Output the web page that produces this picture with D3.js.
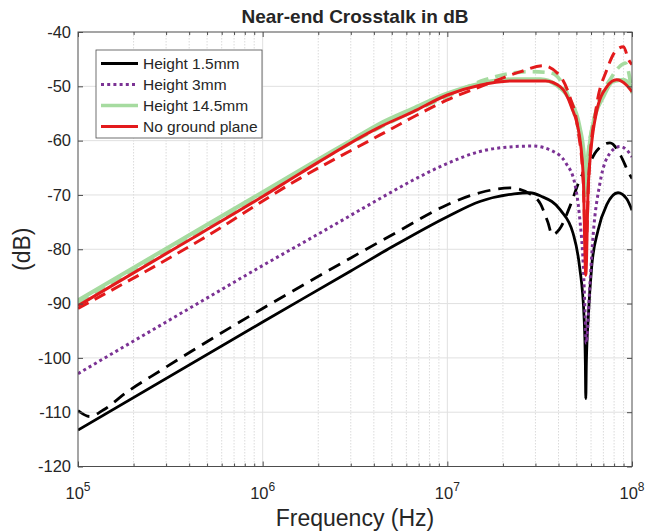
<!DOCTYPE html>
<html>
<head>
<meta charset="utf-8">
<script src="https://cdn.jsdelivr.net/npm/d3@7"></script>
<style>
  html, body { margin: 0; padding: 0; background: #fff; }
  svg { display: block; }
  text { font-family: "Liberation Sans", Arial, Helvetica, sans-serif; fill: #262626; }
</style>
</head>
<body>
<svg id="chart" width="646" height="531"></svg>
<script>
// ---------------- data ----------------
const chartTitle = "Near-end Crosstalk in dB";
const xLabel = "Frequency (Hz)";
const yLabel = "(dB)";
const legendLabels = ["Height 1.5mm", "Height 3mm", "Height 14.5mm", "No ground plane"];
const yTicks = [-120, -110, -100, -90, -80, -70, -60, -50, -40];
const xTickExponents = [5, 6, 7, 8];

// Height 1.5mm (solid)
const h15SolidF  = [1e5, 1e6, 3e6, 5e6, 1e7, 1.5e7, 2.3e7, 2.8e7, 3.2e7, 4.1e7, 4.8e7, 5.2e7, 5.5e7, 5.59e7, 5.62e7, 5.66e7, 5.8e7, 6.05e7, 6.55e7, 7.3e7, 8.4e7, 9.35e7, 1e8];
const h15SolidDb = [-113.3, -93.4, -84.0, -79.6, -74.0, -71.2, -69.8, -69.6, -70.2, -72.8, -77.1, -83.2, -92.4, -101.0, -107.5, -101.0, -92.4, -83.2, -76.5, -71.8, -69.6, -70.7, -72.8];
// Height 1.5mm (dashed)
const h15DashF  = [1e5, 1.16e5, 1.37e5, 1.84e5, 2.78e5, 4.2e5, 6.4e5, 1e6, 3e6, 5.3e6, 1e7, 1.5e7, 2.2e7, 2.8e7, 3.2e7, 3.5e7, 3.7e7, 4.05e7, 4.6e7, 5.2e7, 6e7, 6.4e7, 7.6e7, 8.7e7, 9.5e7, 1e8];
const h15DashDb = [-109.7, -110.8, -109.6, -106.3, -102.4, -98.6, -94.8, -90.9, -81.6, -76.9, -71.8, -69.6, -68.7, -69.8, -71.7, -75.0, -77.3, -76.3, -72.2, -67.3, -63.6, -62.0, -60.4, -62.8, -65.6, -67.0];
// Height 3mm (dotted)
const h3F  = [1e5, 4.6e5, 1e6, 2e6, 4.2e6, 6.5e6, 1e7, 1.5e7, 2.3e7, 2.9e7, 3.75e7, 4.4e7, 4.9e7, 5.2e7, 5.45e7, 5.58e7, 5.65e7, 5.92e7, 6.17e7, 6.7e7, 7.6e7, 8.6e7, 9.35e7, 1e8];
const h3Db = [-102.9, -89.7, -83.0, -77.2, -70.9, -67.3, -64.2, -62.0, -61.1, -61.0, -62.0, -64.2, -67.9, -74.0, -83.2, -92.4, -97.3, -86.3, -77.1, -67.9, -62.3, -61.1, -61.7, -63.0];
// Height 14.5mm (solid)
const h145F  = [1e5, 3e5, 1e6, 1.6e6, 3e6, 4.3e6, 6.5e6, 1e7, 1.5e7, 2.3e7, 3.2e7, 3.9e7, 4.6e7, 5.2e7, 5.5e7, 5.62e7, 5.8e7, 6.17e7, 7e7, 7.9e7, 9e7, 9.75e7, 1e8];
const h145Db = [-89.4, -79.9, -69.5, -65.4, -60.0, -56.9, -54.1, -51.3, -49.5, -48.7, -48.7, -49.8, -52.5, -57.4, -63.0, -70.0, -63.0, -56.8, -51.9, -49.1, -48.8, -49.8, -50.4];
// Height 14.5mm (dashed)
const h145DashF  = [1e5, 1e6, 4.3e6, 1e7, 1.6e7, 2.8e7, 3.6e7, 4.3e7, 4.8e7, 5.3e7, 5.62e7, 5.9e7, 6.4e7, 7.8e7, 8.6e7, 9.2e7, 9.6e7, 1e8];
const h145DashDb = [-89.8, -69.9, -57.6, -51.8, -48.8, -47.3, -47.5, -50.1, -54.4, -60.0, -65.0, -60.0, -54.4, -48.2, -46.3, -45.7, -47.5, -51.3];
// No ground plane (solid)
const nogpF  = [1e5, 3e5, 1e6, 1.6e6, 4.3e6, 6.5e6, 1e7, 1.5e7, 2.3e7, 3.4e7, 4.1e7, 4.7e7, 5.2e7, 5.45e7, 5.62e7, 5.8e7, 6.4e7, 7.3e7, 8.25e7, 9.35e7, 1e8];
const nogpDb = [-90.4, -80.8, -70.3, -66.0, -57.5, -54.7, -51.6, -49.8, -49.0, -49.0, -50.1, -53.8, -59.3, -67.0, -84.8, -68.0, -55.0, -50.1, -48.8, -49.8, -51.0];
// No ground plane (dashed)
const nogpDashF  = [1e5, 4.6e5, 1.6e6, 4.3e6, 6.5e6, 1e7, 1.5e7, 2.5e7, 3.3e7, 4.1e7, 4.6e7, 5.1e7, 5.45e7, 5.62e7, 5.85e7, 6.4e7, 7.3e7, 8.25e7, 9e7, 9.55e7, 1e8];
const nogpDashDb = [-90.9, -78.3, -66.9, -59.0, -55.7, -52.5, -50.1, -47.3, -46.2, -48.2, -51.9, -58.0, -68.0, -80.0, -66.0, -54.0, -47.0, -43.3, -42.7, -45.0, -46.0];

// ---------------- styles ----------------
const cBlack = "#000000", cPurple = "#7b3294", cGreen = "#a6dba0", cRed = "#e31a1c";
const series = [
  { f: h15SolidF, v: h15SolidDb, color: cBlack, w: 2.8, dash: null },
  { f: h15DashF, v: h15DashDb, color: cBlack, w: 2.8, dash: "13,8" },
  { f: h3F, v: h3Db, color: cPurple, w: 3, dash: "3,3.2" },
  { f: h145F, v: h145Db, color: cGreen, w: 4, dash: null },
  { f: h145DashF, v: h145DashDb, color: cGreen, w: 3.6, dash: "12,7" },
  { f: nogpF, v: nogpDb, color: cRed, w: 3, dash: null },
  { f: nogpDashF, v: nogpDashDb, color: cRed, w: 3, dash: "12,7" }
];
const legendStyles = [
  { color: cBlack, w: 2.8, dash: null },
  { color: cPurple, w: 3, dash: "3,3.2" },
  { color: cGreen, w: 3.6, dash: null },
  { color: cRed, w: 3, dash: null }
];

// ---------------- layout ----------------
const L = 78, R = 632, T = 32, B = 466.5;
const svg = d3.select("#chart");
const x = d3.scaleLog().domain([1e5, 1e8]).range([L, R]);
const y = d3.scaleLinear().domain([-120, -40]).range([B, T]);

// grid
const grid = svg.append("g");
const minorF = [];
for (let e = 5; e < 8; e++) for (let m = 2; m <= 9; m++) minorF.push(m * Math.pow(10, e));
grid.selectAll("line.minor").data(minorF).enter().append("line")
  .attr("x1", d => x(d)).attr("x2", d => x(d)).attr("y1", T).attr("y2", B)
  .attr("stroke", "#d2d2d2").attr("stroke-width", 0.8).attr("stroke-dasharray", "1.5,1.5");
grid.selectAll("line.majx").data([1e6, 1e7]).enter().append("line")
  .attr("x1", d => x(d)).attr("x2", d => x(d)).attr("y1", T).attr("y2", B)
  .attr("stroke", "#e0e0e0").attr("stroke-width", 1);
grid.selectAll("line.majy").data(yTicks.slice(1, -1)).enter().append("line")
  .attr("x1", L).attr("x2", R).attr("y1", d => y(d)).attr("y2", d => y(d))
  .attr("stroke", "#e0e0e0").attr("stroke-width", 1);

// clip
svg.append("clipPath").attr("id", "clip").append("rect")
  .attr("x", L).attr("y", T).attr("width", R - L).attr("height", B - T);

const line = d3.line().x(d => x(d[0])).y(d => y(d[1])).curve(d3.curveMonotoneX);
const lines = svg.append("g").attr("clip-path", "url(#clip)");
series.forEach(s => {
  const pts = s.f.map((f, i) => [f, s.v[i]]);
  lines.append("path").datum(pts).attr("d", line)
    .attr("fill", "none").attr("stroke", s.color).attr("stroke-width", s.w)
    .attr("stroke-dasharray", s.dash).attr("stroke-linejoin", "round");
});

// axes box + ticks (inward)
const ax = svg.append("g");
const axisColor = "#4d4d4d";
ax.append("rect").attr("x", L).attr("y", T).attr("width", R - L).attr("height", B - T)
  .attr("fill", "none").attr("stroke", axisColor).attr("stroke-width", 1);
const bottomAxis = d3.axisBottom(x).tickValues(xTickExponents.map(e => Math.pow(10, e))).tickSize(-5).tickFormat("");
const topAxis = d3.axisTop(x).tickValues(xTickExponents.map(e => Math.pow(10, e))).tickSize(-5).tickFormat("");
const bottomMinor = d3.axisBottom(x).tickValues(minorF).tickSize(-3).tickFormat("");
const topMinor = d3.axisTop(x).tickValues(minorF).tickSize(-3).tickFormat("");
const leftAxis = d3.axisLeft(y).tickValues(yTicks).tickSize(-5).tickFormat("");
const rightAxis = d3.axisRight(y).tickValues(yTicks).tickSize(-5).tickFormat("");
[[bottomAxis, `translate(0,${B})`], [topAxis, `translate(0,${T})`], [bottomMinor, `translate(0,${B})`], [topMinor, `translate(0,${T})`],
 [leftAxis, `translate(${L},0)`], [rightAxis, `translate(${R},0)`]].forEach(([a, tr]) => {
  const g = ax.append("g").attr("transform", tr).call(a);
  g.select(".domain").remove();
  g.selectAll("line").attr("stroke", axisColor);
});

// tick labels
svg.append("g").selectAll("text").data(yTicks).enter().append("text")
  .attr("x", L - 7).attr("y", d => y(d)).attr("dy", "0.35em")
  .attr("text-anchor", "end").attr("font-size", 16.5).text(d => d);
const xl = svg.append("g").selectAll("text").data(xTickExponents).enter().append("text")
  .attr("x", d => x(Math.pow(10, d))).attr("y", 499).attr("text-anchor", "middle").attr("font-size", 16.5);
xl.append("tspan").text("10");
xl.append("tspan").attr("dy", -8).attr("font-size", 12).text(d => d);

// titles
svg.append("text").attr("x", (L + R) / 2).attr("y", 23).attr("text-anchor", "middle")
  .attr("font-size", 19).attr("font-weight", "bold").attr("fill", "#000").text(chartTitle);
svg.append("text").attr("x", (L + R) / 2).attr("y", 526).attr("text-anchor", "middle")
  .attr("font-size", 23).text(xLabel);
svg.append("text").attr("transform", `translate(30,${(T + B) / 2}) rotate(-90)`).attr("text-anchor", "middle")
  .attr("font-size", 23).text(yLabel);

// legend
const lg = svg.append("g");
lg.append("rect").attr("x", 96).attr("y", 50).attr("width", 166).attr("height", 88)
  .attr("fill", "#fff").attr("stroke", axisColor).attr("stroke-width", 0.8);
const rowY = i => 63.5 + i * 21;
legendLabels.forEach((lab, i) => {
  const st = legendStyles[i];
  lg.append("line").attr("x1", 101).attr("x2", 138).attr("y1", rowY(i)).attr("y2", rowY(i))
    .attr("stroke", st.color).attr("stroke-width", st.w).attr("stroke-dasharray", st.dash);
  lg.append("text").attr("x", 143).attr("y", rowY(i)).attr("dy", "0.35em")
    .attr("font-size", 15.5).text(lab);
});
</script>
</body>
</html>
